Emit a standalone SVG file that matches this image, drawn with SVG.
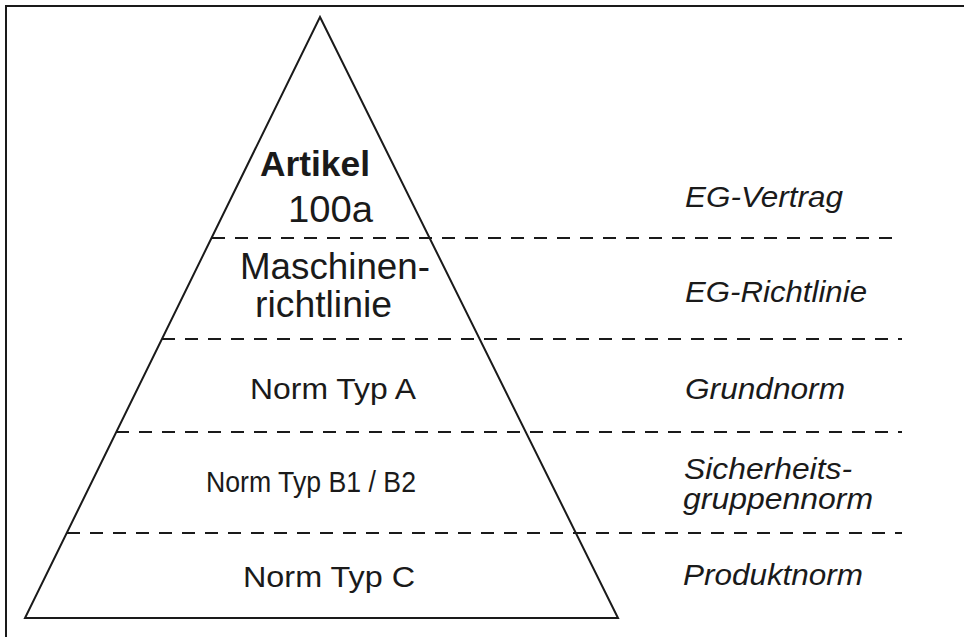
<svg xmlns="http://www.w3.org/2000/svg" width="964" height="637" viewBox="0 0 964 637">
<style>
.ln{stroke:#1a1a1a;stroke-width:2;fill:none}
.dash{stroke:#1a1a1a;stroke-width:2;fill:none;stroke-dasharray:13 10}
.t{font-family:"Liberation Sans",Arial,sans-serif;fill:#1a1a1a}
.l{font-size:36px}
.b{font-size:35px;font-weight:bold}
.m{font-size:30px}
.s{font-size:29px}
.r{font-size:30px;font-style:italic}
</style>
<rect width="964" height="637" fill="#ffffff"/>
<g id="frame">
<path class="ln" d="M6,637 L6,6 L964,6"/>
</g>
<g id="pyramid">
<polygon class="ln" points="320,17 618,618 25,618" stroke-linejoin="miter"/>
</g>
<g id="separators">
<line class="dash" x1="212" y1="238" x2="902" y2="238"/>
<line class="dash" x1="162" y1="339" x2="902" y2="339"/>
<line class="dash" x1="116" y1="432" x2="902" y2="432"/>
<line class="dash" x1="67" y1="533" x2="902" y2="533"/>
</g>
<g id="layer-artikel">
<text class="t b" x="260" y="176" textLength="110" lengthAdjust="spacingAndGlyphs">Artikel</text>
<text class="t l" x="288" y="222" textLength="85" lengthAdjust="spacingAndGlyphs">100a</text>
</g>
<g id="layer-maschinenrichtlinie">
<text class="t l" x="240" y="279" textLength="190" lengthAdjust="spacingAndGlyphs">Maschinen-</text>
<text class="t l" x="255" y="317" textLength="137" lengthAdjust="spacingAndGlyphs">richtlinie</text>
</g>
<g id="layer-typ-a">
<text class="t m" x="250" y="399" textLength="166" lengthAdjust="spacingAndGlyphs">Norm Typ A</text>
</g>
<g id="layer-typ-b">
<text class="t s" x="206" y="492" textLength="210" lengthAdjust="spacingAndGlyphs">Norm Typ B1 / B2</text>
</g>
<g id="layer-typ-c">
<text class="t m" x="243" y="587" textLength="172" lengthAdjust="spacingAndGlyphs">Norm Typ C</text>
</g>
<g id="label-eg-vertrag">
<text class="t r" x="685" y="207" textLength="158" lengthAdjust="spacingAndGlyphs">EG-Vertrag</text>
</g>
<g id="label-eg-richtlinie">
<text class="t r" x="685" y="302" textLength="182" lengthAdjust="spacingAndGlyphs">EG-Richtlinie</text>
</g>
<g id="label-grundnorm">
<text class="t r" x="685" y="399" textLength="160" lengthAdjust="spacingAndGlyphs">Grundnorm</text>
</g>
<g id="label-sicherheitsgruppennorm">
<text class="t r" x="684" y="479" textLength="168" lengthAdjust="spacingAndGlyphs">Sicherheits-</text>
<text class="t r" x="683" y="509" textLength="190" lengthAdjust="spacingAndGlyphs">gruppennorm</text>
</g>
<g id="label-produktnorm">
<text class="t r" x="683" y="585" textLength="180" lengthAdjust="spacingAndGlyphs">Produktnorm</text>
</g>
</svg>
